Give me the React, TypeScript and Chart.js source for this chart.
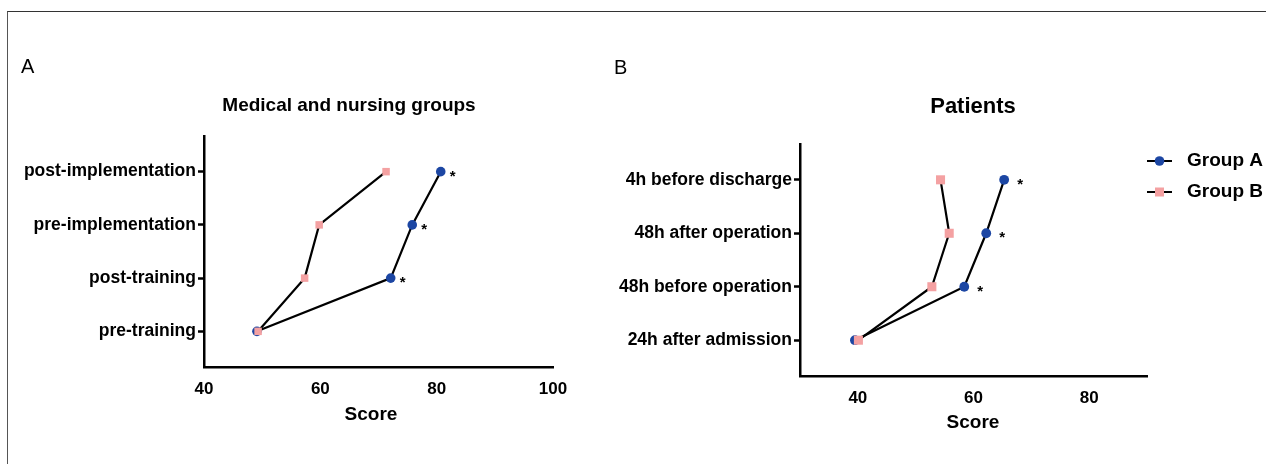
import React, { useEffect, useRef } from "react";
import { Chart, registerables } from "chart.js";

Chart.register(...registerables);

const FONT = "'Liberation Sans', Arial, Helvetica, sans-serif";
const BLUE = "#1c46a3";
const PINK = "#f4a1a2";

// Panel A — Medical and nursing groups
const categoriesA = ["pre-training", "post-training", "pre-implementation", "post-implementation"];
const groupA_A = [49.1, 72.1, 75.8, 80.7];
const groupB_A = [49.3, 57.3, 59.8, 71.3];
const sigA = [false, true, true, true];
const xTicksA = [40, 60, 80, 100];

// Panel B — Patients
const categoriesB = ["24h after admission", "48h before operation", "48h after operation", "4h before discharge"];
const groupA_B = [39.5, 58.4, 62.2, 65.3];
const groupB_B = [40.1, 52.8, 55.8, 54.3];
const sigB = [false, true, true, true];
const xTicksB = [40, 60, 80];

const seriesNames = ["Group A", "Group B"];

type PanelCfg = {
  cats: string[];
  a: number[];
  b: number[];
  sig: boolean[];
  xTicks: number[];
  xMin: number;
  xMax: number;
  top: number;
  padRight: number;
  yAxisW: number;
  xAxisH: number;
  circleR: number;
  rectR: number;
  letter: string;
  letterX: number;
  letterY: number;
  title: string;
  titleSize: number;
  titleX: number;
  titleY: number;
  scoreX: number;
  scoreY: number;
  starDx: number;
  legend?: { x0: number; x1: number; textX: number; y0: number; gap: number };
};

function buildChart(canvas: HTMLCanvasElement, p: PanelCfg) {
  const annot = {
    id: "annot" + p.letter,
    afterDraw(chart: any) {
      const ctx = chart.ctx as CanvasRenderingContext2D;
      ctx.save();
      // panel letter
      ctx.fillStyle = "#000";
      ctx.font = `normal 20px ${FONT}`;
      ctx.textAlign = "left";
      ctx.textBaseline = "alphabetic";
      ctx.fillText(p.letter, p.letterX, p.letterY);
      // title
      ctx.font = `bold ${p.titleSize}px ${FONT}`;
      ctx.textAlign = "center";
      ctx.textBaseline = "middle";
      ctx.fillText(p.title, p.titleX, p.titleY);
      // axis title
      ctx.font = `bold 19px ${FONT}`;
      ctx.fillText("Score", p.scoreX, p.scoreY);
      // asterisks
      const meta = chart.getDatasetMeta(0);
      ctx.font = `bold 15px ${FONT}`;
      ctx.textAlign = "center";
      ctx.textBaseline = "alphabetic";
      meta.data.forEach((el: any, i: number) => {
        if (p.sig[i]) ctx.fillText("*", el.x + p.starDx, el.y + 9);
      });
      // legend
      if (p.legend) {
        const L = p.legend;
        seriesNames.forEach((name, i) => {
          const y = L.y0 + i * L.gap;
          ctx.strokeStyle = "#000";
          ctx.lineWidth = 2;
          ctx.beginPath();
          ctx.moveTo(L.x0, y);
          ctx.lineTo(L.x1, y);
          ctx.stroke();
          const cx = (L.x0 + L.x1) / 2;
          if (i === 0) {
            ctx.fillStyle = BLUE;
            ctx.beginPath();
            ctx.arc(cx, y, 4.8, 0, Math.PI * 2);
            ctx.fill();
          } else {
            ctx.fillStyle = PINK;
            ctx.fillRect(cx - 4.5, y - 4.5, 9, 9);
          }
          ctx.fillStyle = "#000";
          ctx.font = `bold 19px ${FONT}`;
          ctx.textAlign = "left";
          ctx.textBaseline = "middle";
          ctx.fillText(name, L.textX, y);
        });
      }
      ctx.restore();
    },
  };

  return new Chart(canvas, {
    type: "scatter",
    data: {
      datasets: [
        {
          label: seriesNames[0],
          data: p.a.map((v, i) => ({ x: v, y: i })),
          showLine: true,
          borderColor: "#000",
          borderWidth: 2.2,
          pointStyle: "circle",
          pointRadius: p.circleR,
          pointBackgroundColor: BLUE,
          pointBorderColor: BLUE,
          pointBorderWidth: 0,
          order: 2,
        },
        {
          label: seriesNames[1],
          data: p.b.map((v, i) => ({ x: v, y: i })),
          showLine: true,
          borderColor: "#000",
          borderWidth: 2.2,
          pointStyle: "rect",
          pointRadius: p.rectR,
          pointBackgroundColor: PINK,
          pointBorderColor: PINK,
          pointBorderWidth: 0,
          order: 1,
        },
      ],
    },
    options: {
      animation: false,
      responsive: false,
      events: [],
      layout: { padding: { top: p.top, left: 0, right: p.padRight, bottom: 0 } },
      plugins: {
        legend: { display: false },
        title: { display: false },
        tooltip: { enabled: false },
      },
      scales: {
        x: {
          type: "linear",
          position: "bottom",
          min: p.xMin,
          max: p.xMax,
          afterBuildTicks: (ax: any) => {
            ax.ticks = p.xTicks.map((v) => ({ value: v }));
          },
          afterFit: (ax: any) => {
            ax.height = p.xAxisH;
          },
          ticks: {
            font: { family: FONT, size: 17, weight: "bold" },
            color: "#000",
            padding: 12,
            autoSkip: false,
            maxRotation: 0,
          },
          grid: { display: true, drawOnChartArea: false, drawTicks: false },
          border: { display: true, color: "#000", width: 2.5 },
        },
        y: {
          type: "linear",
          position: "left",
          min: -0.67,
          max: 3.67,
          afterBuildTicks: (ax: any) => {
            ax.ticks = p.cats.map((_, i) => ({ value: i }));
          },
          afterFit: (ax: any) => {
            ax.width = p.yAxisW;
          },
          ticks: {
            callback: (v: any) => p.cats[Math.round(Number(v))] ?? "",
            font: { family: FONT, size: 17.5, weight: "bold" },
            color: "#000",
            padding: 2,
            autoSkip: false,
          },
          grid: {
            display: true,
            drawOnChartArea: false,
            drawTicks: true,
            tickLength: 6,
            tickColor: "#000",
            tickWidth: 2.5,
          },
          border: { display: true, color: "#000", width: 2.5 },
        },
      },
    },
    plugins: [annot],
  } as any);
}

const panelA: PanelCfg = {
  cats: categoriesA,
  a: groupA_A,
  b: groupB_A,
  sig: sigA,
  xTicks: xTicksA,
  xMin: 40,
  xMax: 100,
  top: 136,
  padRight: 600 - 553,
  yAxisW: 204,
  xAxisH: 464 - 367,
  circleR: 4.8,
  rectR: 5.3,
  letter: "A",
  letterX: 21,
  letterY: 73,
  title: "Medical and nursing groups",
  titleSize: 19,
  titleX: 349,
  titleY: 106,
  scoreX: 371,
  scoreY: 415,
  starDx: 12,
};

const panelB: PanelCfg = {
  cats: categoriesB,
  a: groupA_B,
  b: groupB_B,
  sig: sigB,
  xTicks: xTicksB,
  xMin: 30,
  xMax: 90,
  top: 144,
  padRight: 666 - 547,
  yAxisW: 200,
  xAxisH: 464 - 376,
  circleR: 4.9,
  rectR: 6.4,
  letter: "B",
  letterX: 14,
  letterY: 74,
  title: "Patients",
  titleSize: 22,
  titleX: 373,
  titleY: 107,
  scoreX: 373,
  scoreY: 423,
  starDx: 16,
  legend: { x0: 547, x1: 572, textX: 587, y0: 161, gap: 31 },
};

export default function App() {
  const refA = useRef<HTMLCanvasElement>(null);
  const refB = useRef<HTMLCanvasElement>(null);

  useEffect(() => {
    const ca = refA.current ? buildChart(refA.current, panelA) : null;
    const cb = refB.current ? buildChart(refB.current, panelB) : null;
    return () => {
      ca?.destroy();
      cb?.destroy();
    };
  }, []);

  return (
    <div
      style={{
        position: "fixed",
        left: 0,
        top: 0,
        width: 1266,
        height: 464,
        background: "#fff",
        overflow: "hidden",
      }}
    >
      <div
        style={{
          position: "absolute",
          left: 7,
          top: 11,
          width: 1300,
          height: 500,
          borderTop: "1.5px solid #333",
          borderLeft: "1.5px solid #555",
        }}
      />
      <canvas
        ref={refA}
        width={600}
        height={464}
        style={{ position: "absolute", left: 0, top: 0, width: 600, height: 464, display: "block" }}
      />
      <canvas
        ref={refB}
        width={666}
        height={464}
        style={{ position: "absolute", left: 600, top: 0, width: 666, height: 464, display: "block" }}
      />
    </div>
  );
}
